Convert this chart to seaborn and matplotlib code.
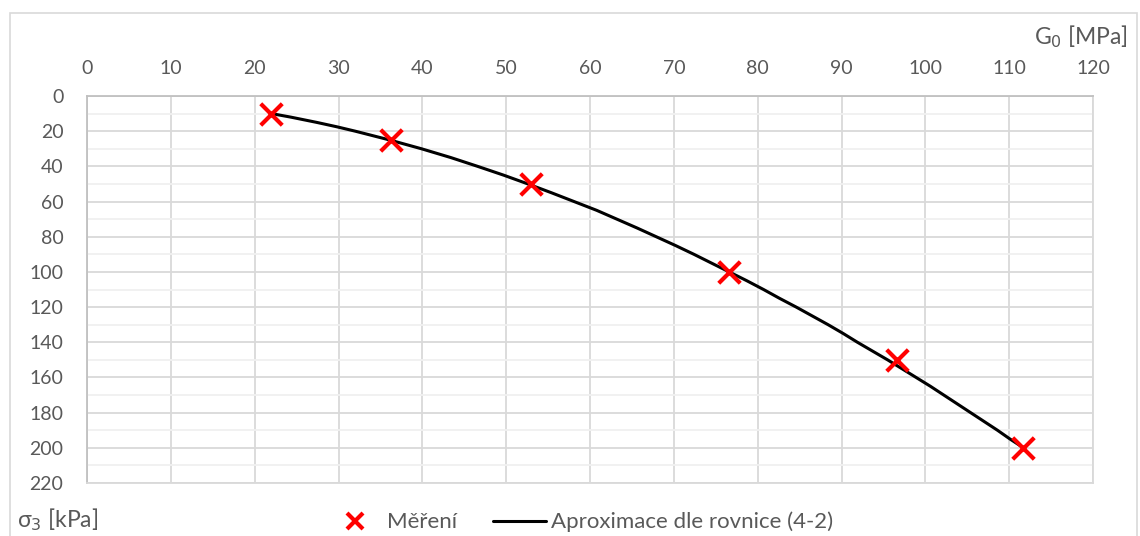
import matplotlib
matplotlib.use("Agg")
import matplotlib.pyplot as plt
import seaborn as sns
import pandas as pd
from matplotlib.lines import Line2D
from matplotlib.patches import Rectangle

# Measured points
meas_G0 = [22.0, 36.3, 53.0, 76.6, 96.6, 111.7]
meas_sigma = [10, 25, 50, 100, 150, 200]

# Approximation curve
curve_sigma = [10, 12, 15, 17.5, 20, 25, 30, 35, 40, 45, 50, 55, 60, 65, 70, 75, 80, 85, 90, 95,
               100, 105, 110, 115, 120, 125, 130, 135, 140, 145, 150, 155, 160, 165, 170, 175,
               180, 185, 190, 195, 200]
curve_G0 = [22.0, 24.3, 27.4, 29.8, 32.0, 36.1, 39.9, 43.4, 46.6, 49.7, 52.6, 55.4, 58.1, 60.8,
            63.2, 65.6, 67.9, 70.2, 72.4, 74.5, 76.6, 78.7, 80.7, 82.6, 84.6, 86.5, 88.4, 90.2,
            91.9, 93.7, 95.5, 97.2, 98.9, 100.6, 102.2, 103.8, 105.4, 107.0, 108.6, 110.1, 111.7]

x_ticks = list(range(0, 121, 10))
y_ticks = list(range(0, 221, 20))

sns.set_theme(style="white")
plt.rcParams['font.family'] = ['Lato', 'DejaVu Sans']

fig = plt.figure(figsize=(11.4, 5.36), dpi=100)
ax = fig.add_axes([87/1140, 1-483/536, (1093-87)/1140, (483-96)/536])

# outer chart frame
fig.patches.append(Rectangle((10/1140, -0.02), (1137-10)/1140, 1-13/536+0.02,
                             transform=fig.transFigure, fill=False,
                             edgecolor="#d9d9d9", linewidth=1.2))

df_c = pd.DataFrame({"G0": curve_G0, "s": curve_sigma})
df_m = pd.DataFrame({"G0": meas_G0, "s": meas_sigma})

sns.lineplot(data=df_c, x="G0", y="s", ax=ax, color="black", linewidth=2.2, sort=False, zorder=3)
sns.scatterplot(data=df_m, x="G0", y="s", ax=ax, marker="x", color="#ff0000", s=240,
                linewidth=3, zorder=4)

ax.set_xlim(0, 120)
ax.set_ylim(220, 0)
ax.set_xticks(x_ticks)
ax.set_yticks(y_ticks)
ax.set_yticks(range(10, 220, 20), minor=True)
ax.xaxis.tick_top()
ax.grid(True, which="major", color="#d9d9d9", linewidth=1.3)
ax.grid(True, which="minor", axis="y", color="#f0f0f0", linewidth=1.3)
ax.set_axisbelow(True)
ax.tick_params(axis="both", which="both", length=0, labelsize=14, labelcolor="#595959")
ax.tick_params(axis="x", pad=14)
ax.tick_params(axis="y", pad=17)
for sp in ax.spines.values():
    sp.set_visible(True)
    sp.set_color("#d9d9d9")
    sp.set_linewidth(1.3)
ax.spines["top"].set_color("#c0c0c0")
ax.spines["left"].set_color("#c0c0c0")
ax.set_xlabel("")
ax.set_ylabel("")

fig.text(1128/1140, 1-37/536, "G$_0$ [MPa]", ha="right", va="center", fontsize=16.5, color="#595959")
fig.text(17/1140, 1-520/536, "σ$_3$ [kPa]", ha="left", va="center", fontsize=16.5, color="#595959")

handles = [Line2D([], [], linestyle="none", marker="x", color="#ff0000", markersize=11, markeredgewidth=3),
           Line2D([], [], color="black", linewidth=2.2)]
fig.legend(handles, ["Měření", "Aproximace dle rovnice (4-2)"], loc="center",
           bbox_to_anchor=(581/1140, 1-522/536), ncol=2, frameon=False, fontsize=16,
           labelcolor="#595959", handlelength=2.35, columnspacing=1.65, handletextpad=0.25,
           borderpad=0, borderaxespad=0)

fig.savefig("out.png", dpi=100)
